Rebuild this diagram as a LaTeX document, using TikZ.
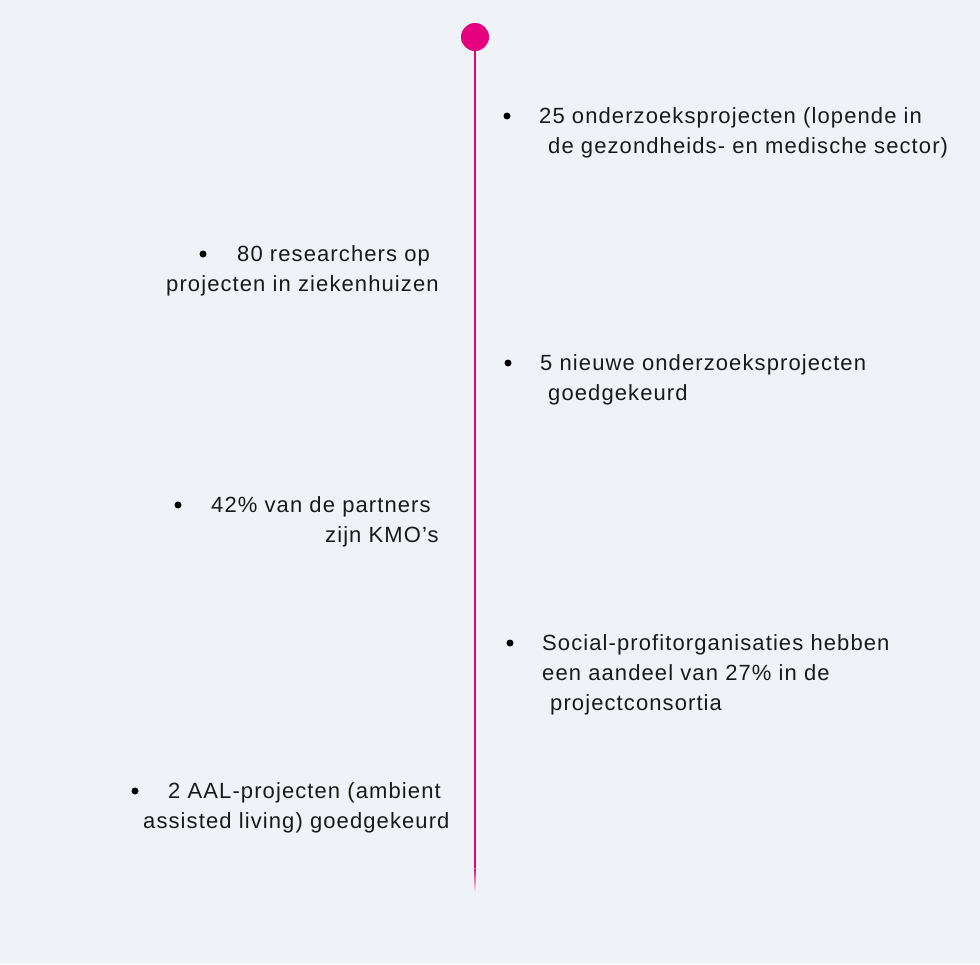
\documentclass[tikz,border=0pt]{standalone}
\usepackage{fontspec}
\setmainfont{Liberation Sans}
\newfontfamily\txtfont[LetterSpace=5]{Liberation Sans}
\definecolor{bgc}{HTML}{EFF3F7}
\definecolor{pinkc}{HTML}{E5007D}
\tikzset{
  txt/.style={anchor=west, inner sep=0pt, text height=15.8pt, text depth=0pt, font=\txtfont\fontsize{22}{26}\selectfont, text=black!90},
  bul/.style={circle, fill=black, inner sep=0pt, minimum size=7pt}
}
\begin{document}
\begin{tikzpicture}[x=1pt,y=-1pt]
\fill[bgc] (0,0) rectangle (980,964);
\useasboundingbox (0,0) rectangle (980,964);
% timeline
\coordinate (lineEnd) at (475,868);
\node[circle, fill=pinkc, inner sep=0pt, minimum size=28pt] (top) at (475,37) {};
\draw[pinkc, line width=1.3pt] (top.center) -- (lineEnd);
\shade[top color=pinkc, bottom color=bgc] (474.35,868) rectangle (475.65,892);
% entry 1
\node[bul] (b1) at (507,116) {};
\node[txt] (t1a) at (539,116) {25 onderzoeksprojecten (lopende in};
\node[txt] (t1b) at (548,146) {de gezondheids- en medische sector)};
% entry 2
\node[bul] (b2) at (203,254) {};
\node[txt] (t2a) at (237,254) {80 researchers op};
\node[txt] (t2b) at (166,284) {projecten in ziekenhuizen};
% entry 3
\node[bul] (b3) at (508,363) {};
\node[txt] (t3a) at (540,363) {5 nieuwe onderzoeksprojecten};
\node[txt] (t3b) at (548,393) {goedgekeurd};
% entry 4
\node[bul] (b4) at (178,505) {};
\node[txt] (t4a) at (211,505) {42\% van de partners};
\node[txt] (t4b) at (325,535) {zijn KMO’s};
% entry 5
\node[bul] (b5) at (510,643) {};
\node[txt] (t5a) at (542,643) {Social-profitorganisaties hebben};
\node[txt] (t5b) at (542,673) {een aandeel van 27\% in de};
\node[txt] (t5c) at (550,703) {projectconsortia};
% entry 6
\node[bul] (b6) at (135,791) {};
\node[txt] (t6a) at (168,791) {2 AAL-projecten (ambient};
\node[txt] (t6b) at (143,821) {assisted living) goedgekeurd};
\end{tikzpicture}
\end{document}
